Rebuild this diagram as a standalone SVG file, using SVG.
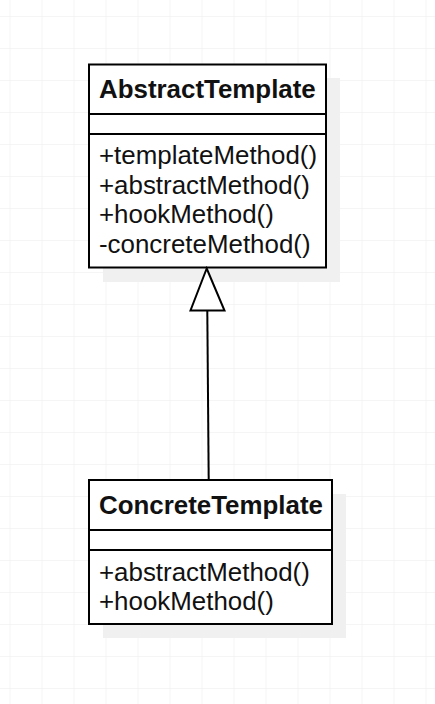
<svg xmlns="http://www.w3.org/2000/svg" width="435" height="704" viewBox="0 0 435 704">
<defs>
<pattern id="grid" x="9.5" y="16" width="32" height="32" patternUnits="userSpaceOnUse">
<path d="M0 0H32M0 0V32" fill="none" stroke="#ececec" stroke-width="1"/>
</pattern>
</defs>
<style>
.box{fill:#fff;stroke:#000;stroke-width:2}
.shadow{fill:#f0f0f0}
.div{stroke:#000;stroke-width:2}
.hdr{font-family:"Liberation Sans",Arial,sans-serif;font-weight:bold;font-size:25.9px;fill:#111}
.txt{font-family:"Liberation Sans",Arial,sans-serif;font-size:25.9px;fill:#111}
.edge{fill:none;stroke:#000;stroke-width:2}
</style>
<rect width="435" height="704" fill="#fff"/>
<rect width="435" height="704" fill="url(#grid)"/>
<g id="AbstractTemplate">
<rect class="shadow" x="103" y="78" width="237" height="204"/>
<rect class="box" x="89" y="64.5" width="237" height="203"/>
<line class="div" x1="89" y1="114" x2="326" y2="114"/>
<line class="div" x1="89" y1="134" x2="326" y2="134"/>
<text class="hdr" x="99" y="98">AbstractTemplate</text>
<text class="txt" x="99" y="164">+templateMethod()</text>
<text class="txt" x="99" y="193.5">+abstractMethod()</text>
<text class="txt" x="99" y="223">+hookMethod()</text>
<text class="txt" x="99" y="252.5">-concreteMethod()</text>
</g>
<g id="ConcreteTemplate">
<rect class="shadow" x="103" y="494" width="243" height="144"/>
<rect class="box" x="89" y="480" width="243" height="144"/>
<line class="div" x1="89" y1="530" x2="332" y2="530"/>
<line class="div" x1="89" y1="550" x2="332" y2="550"/>
<text class="hdr" x="99" y="514">ConcreteTemplate</text>
<text class="txt" x="99" y="580.5">+abstractMethod()</text>
<text class="txt" x="99" y="610">+hookMethod()</text>
</g>
<g id="connectors">
<path class="edge" d="M208.7 479 L207.3 311"/>
<path d="M206.7 268.5 L190.5 310.5 L224.5 310.5 Z" fill="#fff" stroke="#000" stroke-width="2"/>
</g>
</svg>
